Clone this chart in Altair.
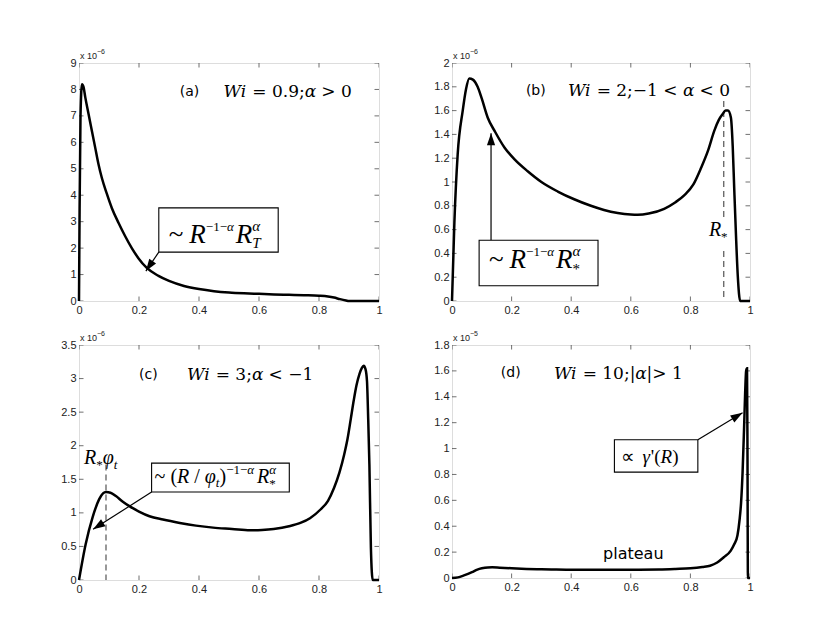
import math
import altair as alt
import pandas as pd

# ---------------- data ----------------
X_TICKS = [0, 0.2, 0.4, 0.6, 0.8, 1]

A_X = [0, 0.002, 0.005, 0.01, 0.015, 0.021, 0.032, 0.043, 0.054, 0.065, 0.076, 0.093,
       0.11, 0.132, 0.154, 0.176, 0.198, 0.226, 0.265, 0.3, 0.35, 0.4, 0.45, 0.5, 0.55,
       0.6, 0.65, 0.7, 0.75, 0.8, 0.83, 0.85, 0.87, 0.89, 0.9, 1.0]
A_Y = [0, 3.5, 7.0, 8.2, 8.1, 7.7, 7.06, 6.43, 5.8, 5.17, 4.66, 4.05,
       3.5, 2.95, 2.45, 2.0, 1.62, 1.25, 0.95, 0.76, 0.57, 0.45, 0.37, 0.32, 0.29,
       0.27, 0.25, 0.235, 0.22, 0.2, 0.17, 0.13, 0.07, 0.02, 0.0, 0.0]
A_YTICKS = [0, 1, 2, 3, 4, 5, 6, 7, 8, 9]

B_X = [0, 0.008, 0.019, 0.036, 0.047, 0.058, 0.07, 0.086, 0.1, 0.12, 0.145, 0.176, 0.21,
       0.254, 0.3, 0.355, 0.41, 0.466, 0.51, 0.556, 0.6, 0.623, 0.66, 0.712, 0.75, 0.78,
       0.81, 0.836, 0.86, 0.88, 0.895, 0.908, 0.918, 0.926, 0.936, 0.942, 0.947, 0.953,
       0.959, 0.967, 1.0]
B_Y = [0, 0.66, 1.23, 1.6, 1.78, 1.87, 1.86, 1.8, 1.7, 1.54, 1.42, 1.29, 1.19,
       1.09, 1.0, 0.92, 0.855, 0.8, 0.765, 0.74, 0.727, 0.725, 0.735, 0.775, 0.83, 0.89,
       0.98, 1.12, 1.27, 1.43, 1.52, 1.57, 1.6, 1.6, 1.54, 1.3, 0.95, 0.55,
       0.21, 0, 0]
B_YTICKS = [0, 0.2, 0.4, 0.6, 0.8, 1, 1.2, 1.4, 1.6, 1.8, 2]

C_X = [0, 0.022, 0.045, 0.067, 0.08, 0.09, 0.105, 0.123, 0.145, 0.168, 0.2, 0.235, 0.28,
       0.336, 0.39, 0.447, 0.51, 0.57, 0.61, 0.649, 0.7, 0.738, 0.77, 0.805, 0.83, 0.85,
       0.868, 0.884, 0.895, 0.906, 0.916, 0.925, 0.935, 0.943, 0.949, 0.955, 0.96, 0.964,
       0.968, 0.973, 0.979, 1.0]
C_Y = [0, 0.53, 0.93, 1.2, 1.29, 1.31, 1.3, 1.25, 1.17, 1.1, 1.02, 0.95, 0.9,
       0.85, 0.81, 0.78, 0.76, 0.74, 0.745, 0.76, 0.8, 0.85, 0.92, 1.05, 1.18, 1.37,
       1.6, 1.87, 2.1, 2.4, 2.68, 2.9, 3.07, 3.16, 3.19, 3.14, 2.96, 2.4,
       1.72, 0.48, 0, 0]
C_YTICKS = [0, 0.5, 1, 1.5, 2, 2.5, 3, 3.5]

D_X = [0, 0.02, 0.04, 0.067, 0.085, 0.1, 0.12, 0.135, 0.16, 0.2, 0.25, 0.3, 0.35, 0.4,
       0.45, 0.52, 0.6, 0.695, 0.75, 0.8, 0.84, 0.866, 0.89, 0.912, 0.935, 0.947, 0.958,
       0.965, 0.97, 0.975, 0.98, 0.984, 0.987, 0.99, 0.9915, 0.993, 1.0]
D_Y = [0, 0.005, 0.02, 0.045, 0.065, 0.075, 0.082, 0.083, 0.08, 0.075, 0.07, 0.067, 0.065,
       0.064, 0.064, 0.064, 0.064, 0.066, 0.07, 0.075, 0.085, 0.095, 0.12, 0.16, 0.21,
       0.26, 0.33, 0.45, 0.58, 0.81, 1.15, 1.45, 1.6, 1.62, 1.0, 0, 0]
D_YTICKS = [0, 0.2, 0.4, 0.6, 0.8, 1, 1.2, 1.4, 1.6, 1.8]

# ---------------- styling helpers ----------------
SERIF_W = "DejaVu Serif"
SERIF_T = "Liberation Serif"
SANS = "DejaVu Sans"
AXF = "Liberation Sans"
FRAME = "#333333"

EM = {
    (SERIF_W, False): {" ": 0.318, "=": 0.838, "<": 0.838, ">": 0.838, "−": 0.838,
                       ".": 0.318, ";": 0.337, "|": 0.337, "0": 0.636, "1": 0.636,
                       "2": 0.636, "3": 0.636, "9": 0.636},
    (SERIF_W, True): {"W": 1.028, "i": 0.343, "α": 0.66},
    (SERIF_T, False): {" ": 0.25, "~": 0.541, "(": 0.333, ")": 0.333, "/": 0.278,
                       "−": 0.564, "1": 0.5, "*": 0.5, "∝": 0.71, "'": 0.18},
    (SERIF_T, True): {"R": 0.611, "T": 0.556, "α": 0.52, "φ": 0.55, "γ": 0.44, "t": 0.278},
    (AXF, False): {"x": 0.5, " ": 0.278, "1": 0.556, "0": 0.556, "5": 0.556,
                   "6": 0.556, "−": 0.584},
}


def width(t, f, it, s):
    tab = EM.get((f, it), {})
    return sum(tab.get(c, 0.6) for c in t) * s


def seg(t, s, f=SERIF_T, it=False, dy=0, adv=True, gap=0):
    return dict(t=t, s=s, f=f, it=it, dy=dy, adv=adv, gap=gap)


def make_panel(xs, ys, ydom, yticks, W, H, exp, rich_items, boxes, arrows, dashes):
    xsc = alt.Scale(domain=[0, 1], nice=False, zero=False)
    ysc = alt.Scale(domain=ydom, nice=False, zero=False)
    common = dict(title=None, grid=False, domain=False, ticks=False, labelPadding=3,
                  labelFont=AXF, labelFontSize=11, labelColor="#222222",
                  labelOverlap=False, format="~g")
    xax = alt.Axis(values=X_TICKS, labelFlush=False, **common)
    yax = alt.Axis(values=yticks, **common)

    def X():
        return alt.X("x:Q", scale=xsc, axis=xax)

    def Y():
        return alt.Y("y:Q", scale=ysc, axis=yax)

    layers = []
    # inward ticks on all four sides (clipped to the frame)
    xt = pd.DataFrame({"x": X_TICKS * 2, "y": [ydom[0]] * len(X_TICKS) + [ydom[1]] * len(X_TICKS)})
    yt = pd.DataFrame({"y": yticks * 2, "x": [0] * len(yticks) + [1] * len(yticks)})
    layers.append(alt.Chart(xt).mark_tick(orient="vertical", size=9, thickness=1,
                                          color=FRAME, clip=True).encode(x=X(), y=Y()))
    layers.append(alt.Chart(yt).mark_tick(orient="horizontal", size=9, thickness=1,
                                          color=FRAME, clip=True).encode(x=X(), y=Y()))

    # dashed guide lines
    for (dx_, y1, y2) in dashes:
        d = pd.DataFrame({"x": [dx_], "y": [y1], "y2": [y2]})
        layers.append(alt.Chart(d).mark_rule(color="#444444", strokeWidth=1.1,
                                             strokeDash=[6, 4]).encode(
            x=X(), y=Y(), y2=alt.Y2("y2:Q")))

    # curve
    df = pd.DataFrame({"x": xs, "y": ys})
    layers.append(alt.Chart(df).mark_line(color="black", strokeWidth=2.5,
                                          interpolate="monotone").encode(x=X(), y=Y()))

    # arrows
    ppx = W / 1.0
    ppy = H / (ydom[1] - ydom[0])
    for (x0, y0, x1, y1) in arrows:
        d = pd.DataFrame({"x": [x0], "y": [y0], "x2": [x1], "y2": [y1]})
        layers.append(alt.Chart(d).mark_rule(color="black", strokeWidth=1.2).encode(
            x=X(), y=Y(), x2=alt.X2("x2:Q"), y2=alt.Y2("y2:Q")))
        sx = (x1 - x0) * ppx
        sy = -(y1 - y0) * ppy
        ang = math.degrees(math.atan2(sx, -sy)) % 360
        h = pd.DataFrame({"x": [x1], "y": [y1]})
        layers.append(alt.Chart(h).mark_point(shape="M0,0L-0.75,2.2L0.75,2.2Z", filled=True,
                                              size=120, angle=ang, color="black",
                                              opacity=1).encode(x=X(), y=Y()))

    # boxes
    for (x0, x1, y0, y1) in boxes:
        d = pd.DataFrame({"x": [x0], "x2": [x1], "y": [y0], "y2": [y1]})
        layers.append(alt.Chart(d).mark_rect(fill="white", stroke="black", strokeWidth=1.1).encode(
            x=X(), x2=alt.X2("x2:Q"), y=Y(), y2=alt.Y2("y2:Q")))

    # rich texts
    for (x, y, segs) in rich_items:
        off = 0.0
        d = pd.DataFrame({"x": [x], "y": [y]})
        for sg in segs:
            off += sg["gap"]
            t = sg["t"]
            lead = len(t) - len(t.lstrip(" "))
            shown = t.strip(" ")
            lead_w = width(" " * lead, sg["f"], sg["it"], sg["s"])
            layers.append(alt.Chart(d).mark_text(
                text=shown, align="left", baseline="alphabetic", dx=off + lead_w, dy=sg["dy"],
                font=sg["f"], fontSize=sg["s"], fontStyle="italic" if sg["it"] else "normal",
                color="black").encode(x=X(), y=Y()))
            if sg["adv"]:
                off += width(t, sg["f"], sg["it"], sg["s"])

    # exponent label above the frame
    e = pd.DataFrame({"x": [0], "y": [ydom[1]]})
    layers.append(alt.Chart(e).mark_text(text="x 10", align="left", baseline="alphabetic",
                                         dx=1, dy=-4, font=AXF, fontSize=9,
                                         color="#222222").encode(x=X(), y=Y()))
    layers.append(alt.Chart(e).mark_text(text=exp, align="left", baseline="alphabetic",
                                         dx=1 + width("x 10", AXF, False, 9), dy=-9.5,
                                         font=AXF, fontSize=7,
                                         color="#222222").encode(x=X(), y=Y()))

    return alt.layer(*layers).properties(width=W, height=H)


def formula(parts, size=17):
    # parts: list of (text, italic)
    return [seg(t, size, f=SERIF_W, it=it) for (t, it) in parts]


# ---------------- panel (a) ----------------
pa = make_panel(
    A_X, A_Y, [0, 9], A_YTICKS, 300, 238, "−6",
    rich_items=[
        (0.336, 7.75, [seg("(a)", 14, f=SANS)]),
        (0.482, 7.7, formula([("Wi", True), (" = 0.9;", False), ("α", True), (" > 0", False)])),
        (0.299, 2.19, [seg("~", 27), seg("R", 27, it=True, gap=6),
                       seg("−1−", 13, dy=-12), seg("α", 13, it=True, dy=-12),
                       seg("R", 27, it=True, gap=2), seg("T", 15, it=True, dy=5, adv=False),
                       seg("α", 15, it=True, dy=-12)]),
    ],
    boxes=[(0.266, 0.664, 1.85, 3.52)],
    arrows=[(0.266, 1.85, 0.223, 1.13)],
    dashes=[],
)

# ---------------- panel (b) ----------------
pb = make_panel(
    B_X, B_Y, [0, 2], B_YTICKS, 298, 238, "−6",
    rich_items=[
        (0.248, 1.73, [seg("(b)", 14, f=SANS)]),
        (0.389, 1.72, formula([("Wi", True), (" = 2;−1 < ", False), ("α", True), (" < 0", False)])),
        (0.862, 0.55, [seg("R", 20, it=True), seg("*", 13, dy=5)]),
        (0.124, 0.28, [seg("~", 27), seg("R", 27, it=True, gap=6),
                       seg("−1−", 13, dy=-12), seg("α", 13, it=True, dy=-12),
                       seg("R", 27, it=True, gap=2), seg("*", 15, dy=6, adv=False),
                       seg("α", 15, it=True, dy=-12)]),
    ],
    boxes=[(0.091, 0.49, 0.128, 0.51)],
    arrows=[(0.131, 0.51, 0.131, 1.41)],
    dashes=[(0.912, 1.68, 0.69), (0.912, 0.42, 0.0)],
)

# ---------------- panel (c) ----------------
pc = make_panel(
    C_X, C_Y, [0, 3.5], C_YTICKS, 300, 235, "−6",
    rich_items=[
        (0.2, 3.0, [seg("(c)", 14, f=SANS)]),
        (0.36, 2.98, formula([("Wi", True), (" = 3;", False), ("α", True), (" < −1", False)])),
        (0.017, 1.73, [seg("R", 20, it=True), seg("*", 13, dy=5),
                       seg("φ", 20, it=True), seg("t", 13, it=True, dy=5)]),
        (0.252, 1.45, [seg("~ (", 20), seg("R", 20, it=True), seg(" / ", 20),
                       seg("φ", 20, it=True), seg("t", 13, it=True, dy=4), seg(")", 20),
                       seg("−1−", 13, dy=-9), seg("α", 13, it=True, dy=-9),
                       seg("R", 20, it=True, gap=3), seg("*", 13, dy=5, adv=False),
                       seg("α", 13, it=True, dy=-9)]),
    ],
    boxes=[(0.242, 0.701, 1.31, 1.74)],
    arrows=[(0.242, 1.31, 0.047, 0.755)],
    dashes=[(0.09, 1.72, 0.0)],
)

# ---------------- panel (d) ----------------
pd_ = make_panel(
    D_X, D_Y, [0, 1.8], D_YTICKS, 298, 233, "−5",
    rich_items=[
        (0.164, 1.55, [seg("(d)", 14, f=SANS)]),
        (0.342, 1.54, formula([("Wi", True), (" = 10;|", False), ("α", True), ("|> 1", False)])),
        (0.568, 0.89, [seg("∝ ", 19), seg("γ", 19, it=True, gap=3), seg("'(", 19),
                       seg("R", 19, it=True), seg(")", 19)]),
        (0.507, 0.15, [seg("plateau", 16, f=SANS)]),
    ],
    boxes=[(0.545, 0.825, 0.818, 1.068)],
    arrows=[(0.825, 1.068, 0.975, 1.276)],
    dashes=[],
)

chart = alt.concat(pa, pb, pc, pd_, columns=2, spacing={"row": 44, "column": 73},
                   bounds="flush").properties(
    padding={"left": 52, "top": 39, "right": 5, "bottom": 5}
).configure_view(stroke=FRAME, strokeWidth=1).configure(background="white")

chart.save("out.html", embed_options={"renderer": "svg", "actions": False})
